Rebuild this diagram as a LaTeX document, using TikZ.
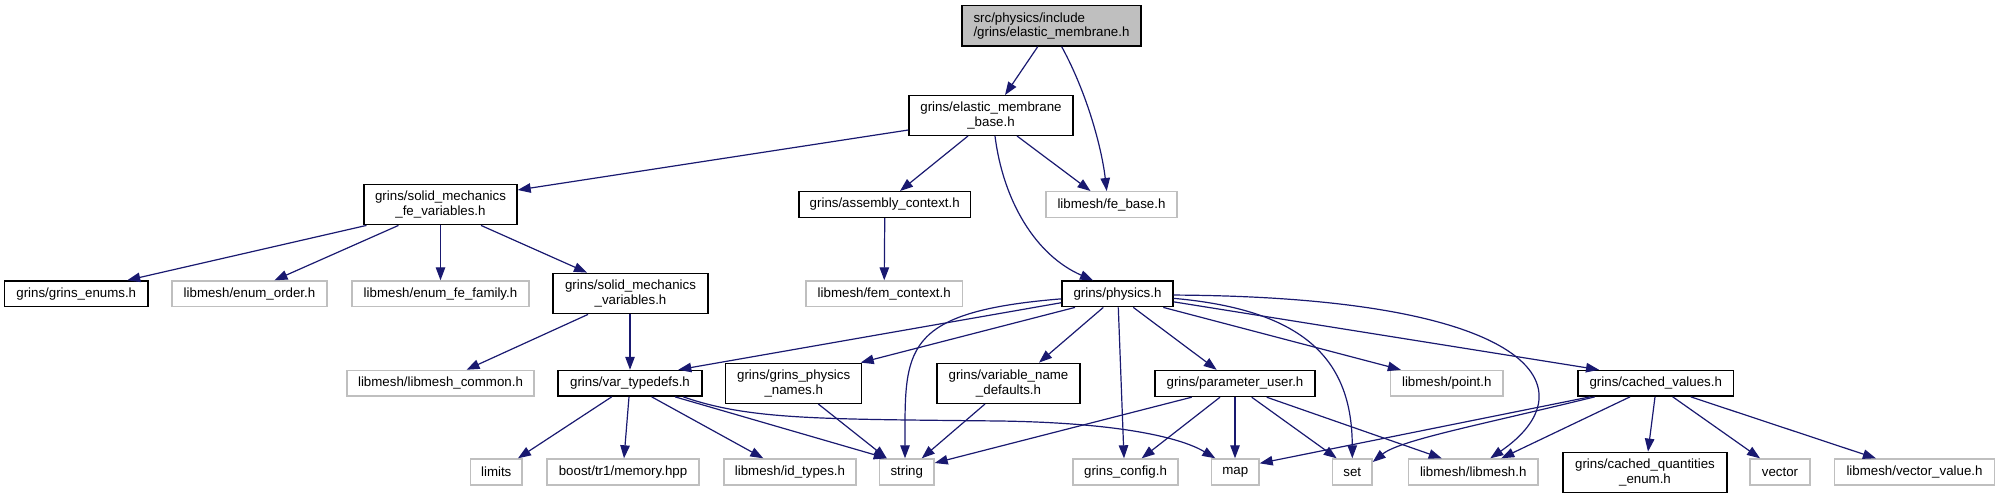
\documentclass[tikz,border=0pt]{standalone}
\usepackage{fontspec}
\setmainfont{Liberation Sans}
\usetikzlibrary{arrows.meta}
\definecolor{edgec}{RGB}{25,25,112}
\definecolor{greyb}{RGB}{191,191,191}
\begin{document}
\begin{tikzpicture}[x=1pt,y=-1pt,font=\fontsize{13.3}{14.5}\selectfont,
  gbox/.style={draw=black,line width=1.4pt,fill=white,inner sep=0pt,align=center},
  lbox/.style={draw=greyb,line width=1.4pt,fill=white,inner sep=0pt,align=center},
  dep/.style={draw=edgec,line width=1.2pt,-{Triangle[length=13pt,width=9.5pt]}}]
\useasboundingbox (0,0) rectangle (1996,499);
% nodes
\node[gbox,fill=greyb,align=left,minimum width=179pt,minimum height=40.3pt] (root) at (1051.5,25.85) {src/physics/include\\/grins/elastic\_membrane.h};
\node[gbox,minimum width=164pt,minimum height=39.6pt] (emb) at (991,115.5) {grins/elastic\_membrane\\\_base.h};
\node[gbox,minimum width=153pt,minimum height=40.4pt] (smfv) at (440.5,204.5) {grins/solid\_mechanics\\\_fe\_variables.h};
\node[gbox,minimum width=171.5pt,minimum height=25.6pt] (asm) at (884.75,204.5) {grins/assembly\_context.h};
\node[lbox,minimum width=131pt,minimum height=25.6pt] (feb) at (1111.5,204.5) {libmesh/fe\_base.h};
\node[gbox,minimum width=143.5pt,minimum height=25.7pt] (genum) at (76.25,293.85) {grins/grins\_enums.h};
\node[lbox,minimum width=155pt,minimum height=25.7pt] (eord) at (249.5,293.85) {libmesh/enum\_order.h};
\node[lbox,minimum width=177pt,minimum height=25.7pt] (efam) at (440.5,293.85) {libmesh/enum\_fe\_family.h};
\node[gbox,minimum width=155pt,minimum height=40.4pt] (smv) at (630.5,293.5) {grins/solid\_mechanics\\\_variables.h};
\node[lbox,minimum width=156.5pt,minimum height=25.7pt] (fem) at (884.25,293.85) {libmesh/fem\_context.h};
\node[gbox,minimum width=111pt,minimum height=25.7pt] (phys) at (1117.5,293.85) {grins/physics.h};
\node[lbox,minimum width=187pt,minimum height=25.7pt] (lmc) at (440.5,383.3) {libmesh/libmesh\_common.h};
\node[gbox,minimum width=144pt,minimum height=25.7pt] (vt) at (630,383.3) {grins/var\_typedefs.h};
\node[gbox,minimum width=136pt,minimum height=40pt] (gpn) at (793.7,383.3) {grins/grins\_physics\\\_names.h};
\node[gbox,minimum width=143pt,minimum height=40pt] (vnd) at (1008.5,383.3) {grins/variable\_name\\\_defaults.h};
\node[gbox,minimum width=160pt,minimum height=26pt] (pu) at (1235,383.5) {grins/parameter\_user.h};
\node[lbox,minimum width=112.4pt,minimum height=25.7pt] (pt) at (1446.8,383.3) {libmesh/point.h};
\node[gbox,minimum width=155.5pt,minimum height=25.7pt] (cv) at (1655.75,383.3) {grins/cached\_values.h};
\node[lbox,minimum width=51.5pt,minimum height=26pt] (lim) at (496.25,472) {limits};
\node[lbox,minimum width=152pt,minimum height=26pt] (bst) at (623,472) {boost/tr1/memory.hpp};
\node[lbox,minimum width=132pt,minimum height=26pt] (idt) at (790,472) {libmesh/id\_types.h};
\node[lbox,minimum width=54.5pt,minimum height=26pt] (str) at (906.75,472) {string};
\node[lbox,minimum width=105pt,minimum height=26pt] (gcf) at (1125.5,472) {grins\_config.h};
\node[lbox,minimum width=47.4pt,minimum height=26pt] (nmap) at (1235.3,472) {map};
\node[lbox,minimum width=39.4pt,minimum height=26pt] (nset) at (1352.3,472) {set};
\node[lbox,minimum width=129.5pt,minimum height=26pt] (lmh) at (1473.25,472) {libmesh/libmesh.h};
\node[gbox,minimum width=164pt,minimum height=40pt] (cqe) at (1645,472.3) {grins/cached\_quantities\\\_enum.h};
\node[lbox,minimum width=60pt,minimum height=26pt] (vec) at (1780,472) {vector};
\node[lbox,minimum width=160pt,minimum height=26pt] (vv) at (1914.5,472) {libmesh/vector\_value.h};
% edges
\draw[dep] ([xshift=-13.8pt]root.south) -- ([xshift=14pt]emb.north);
\draw[dep] ([xshift=10.2pt]root.south) .. controls (1088,95) and (1102,150) .. ([xshift=-4.8pt]feb.north);
\draw[dep] ([yshift=-14.5pt]emb.west) -- ([yshift=14.5pt]smfv.east);
\draw[dep] ([xshift=-23pt]emb.south) -- ([xshift=15.25pt]asm.north);
\draw[dep] ([xshift=26pt]emb.south) -- ([xshift=-21pt]feb.north);
\draw[dep] ([xshift=4pt]emb.south) .. controls (1003,200) and (1035,255) .. ([xshift=-24.5pt]phys.north);
\draw[dep] ([xshift=-74pt]smfv.south) -- ([xshift=51pt]genum.north);
\draw[dep] ([xshift=-42pt]smfv.south) -- ([xshift=25pt]eord.north);
\draw[dep] (smfv.south) -- (efam.north);
\draw[dep] ([xshift=40.5pt]smfv.south) -- ([xshift=-43.5pt]smv.north);
\draw[dep] (asm.south) -- (fem.north);
\draw[dep] ([xshift=-42.5pt]smv.south) -- ([xshift=26pt]lmc.north);
\draw[dep] ([xshift=-0.5pt]smv.south) -- (vt.north);
\draw[dep] ([yshift=-8.85pt]phys.west) -- ([xshift=48.3pt]vt.north);
\draw[dep] ([xshift=-42.5pt]phys.south) -- ([xshift=67pt]gpn.north);
\draw[dep] ([yshift=-5pt]phys.west) .. controls (900,312) and (905,350) .. ([xshift=-1.75pt]str.north);
\draw[dep] ([xshift=-14.2pt]phys.south) -- ([xshift=30.5pt]vnd.north);
\draw[dep] ([xshift=0.8pt]phys.south) -- ([xshift=-1.5pt]gcf.north);
\draw[dep] ([xshift=15.8pt]phys.south) -- ([xshift=-18.3pt]pu.north);
\draw[dep] ([yshift=-4.5pt]phys.east) .. controls (1305,310) and (1352,360) .. (nset.north);
\draw[dep] ([xshift=45.8pt]phys.south) -- ([xshift=-46pt]pt.north);
\draw[dep] ([yshift=-1.2pt]phys.east) .. controls (1540,297) and (1590,390) .. ([xshift=17pt]lmh.north);
\draw[dep] ([yshift=-8pt]phys.east) -- ([xshift=-56.75pt]cv.north);
\draw[dep] ([xshift=-18.3pt]vt.south) -- ([xshift=21.7pt]lim.north);
\draw[dep] ([xshift=-1pt]vt.south) -- ([xshift=1pt]bst.north);
\draw[dep] ([xshift=21.7pt]vt.south) -- ([xshift=-26.7pt]idt.north);
\draw[dep] ([xshift=45pt]vt.south) -- ([xshift=-20pt]str.north);
\draw[dep] ([xshift=53.3pt]vt.south) .. controls (750,420) and (820,419) .. (1000,421) .. controls (1130,423) and (1185,440) .. ([xshift=-20pt]nmap.north);
\draw[dep] ([xshift=24.6pt]gpn.south) -- ([xshift=-20pt]str.north);
\draw[dep] ([xshift=-23.5pt]vnd.south) -- ([xshift=15pt]str.north);
\draw[dep] ([xshift=-43.3pt]pu.south) -- ([yshift=9pt]str.east);
\draw[dep] ([xshift=-15pt]pu.south) -- ([xshift=16.2pt]gcf.north);
\draw[dep] (pu.south) -- ([xshift=-0.3pt]nmap.north);
\draw[dep] ([xshift=16.7pt]pu.south) -- ([xshift=-15.6pt]nset.north);
\draw[dep] ([xshift=31.7pt]pu.south) -- ([xshift=-31.5pt]lmh.north);
\draw[dep] ([xshift=-65.75pt]cv.south) -- ([yshift=8.7pt]nmap.east);
\draw[dep] ([xshift=-61pt]cv.south) .. controls (1480,425) and (1400,440) .. ([yshift=10pt]nset.east);
\draw[dep] ([xshift=-25.75pt]cv.south) -- ([xshift=28pt]lmh.north);
\draw[dep] ([xshift=-0.75pt]cv.south) -- ([xshift=3pt]cqe.north);
\draw[dep] ([xshift=17pt]cv.south) -- ([xshift=-20pt]vec.north);
\draw[dep] ([xshift=35pt]cv.south) -- ([xshift=-38.6pt]vv.north);
\end{tikzpicture}
\end{document}
